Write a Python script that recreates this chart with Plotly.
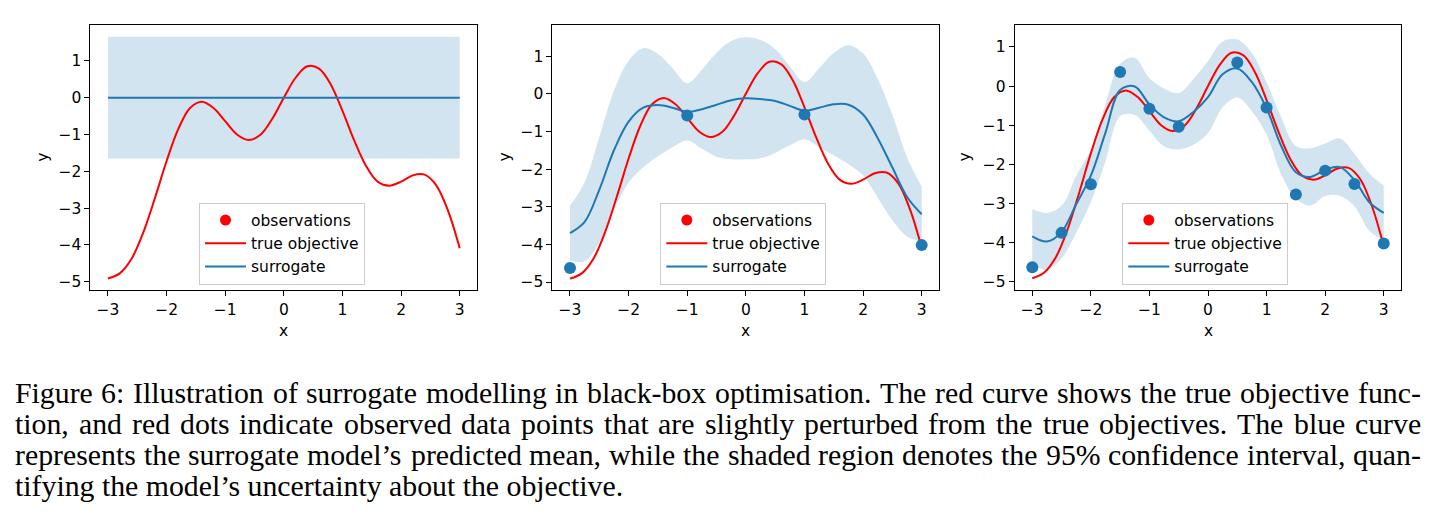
import plotly.graph_objects as go

# ---------------- data ----------------
true_x = [-3.0, -2.8, -2.6, -2.4, -2.2, -2.0, -1.8, -1.6, -1.4, -1.2, -1.0, -0.8, -0.6, -0.4, -0.2,
          0.0, 0.2, 0.4, 0.6, 0.8, 1.0, 1.2, 1.4, 1.6, 1.8, 2.0, 2.2, 2.4, 2.6, 2.8, 3.0]
true_y = [-4.91, -4.77, -4.38, -3.67, -2.73, -1.72, -0.85, -0.28, -0.11, -0.28, -0.64, -1.00, -1.15, -1.01, -0.58,
          0.00, 0.54, 0.85, 0.79, 0.36, -0.36, -1.16, -1.85, -2.28, -2.39, -2.28, -2.11, -2.09, -2.38, -3.07, -4.09]

# panel 1 (prior, no observations)
p1_x = [-3.0, 3.0]
p1_mean = [0.0, 0.0]
p1_upper = [1.65, 1.65]
p1_lower = [-1.65, -1.65]

# grid for the posterior surrogate curves
grid_x = [-3.0, -2.75, -2.5, -2.25, -2.0, -1.75, -1.5, -1.25, -1.0, -0.75, -0.5, -0.25, 0.0,
          0.25, 0.5, 0.75, 1.0, 1.25, 1.5, 1.75, 2.0, 2.25, 2.5, 2.75, 3.0]

# panel 2 (4 observations)
p2_obs_x = [-3.0, -1.0, 1.0, 3.0]
p2_obs_y = [-4.63, -0.58, -0.55, -4.02]
p2_mean = [-3.70, -3.40, -2.55, -1.50, -0.74, -0.37, -0.30, -0.37, -0.48, -0.41, -0.29, -0.17, -0.12,
           -0.14, -0.19, -0.32, -0.45, -0.37, -0.28, -0.29, -0.55, -1.18, -1.96, -2.74, -3.20]
p2_upper = [-2.97, -2.35, -1.15, 0.08, 0.88, 1.21, 1.06, 0.68, 0.28, 0.64, 1.09, 1.40, 1.50,
            1.43, 1.19, 0.73, 0.31, 0.68, 1.08, 1.29, 1.07, 0.40, -0.56, -1.69, -2.47]
p2_lower = [-4.43, -4.45, -3.95, -3.08, -2.36, -1.95, -1.66, -1.42, -1.24, -1.46, -1.67, -1.74, -1.74,
            -1.71, -1.57, -1.37, -1.21, -1.42, -1.64, -1.87, -2.17, -2.76, -3.36, -3.79, -3.93]

# panel 3 (12 observations)
p3_obs_x = [-3.0, -2.5, -2.0, -1.5, -1.0, -0.5, 0.5, 1.0, 1.5, 2.0, 2.5, 3.0]
p3_obs_y = [-4.63, -3.75, -2.51, 0.36, -0.58, -1.04, 0.60, -0.55, -2.77, -2.16, -2.50, -4.02]
p3_mean = [-3.84, -3.97, -3.73, -3.02, -2.29, -1.19, -0.10, -0.01, -0.47, -0.80, -0.90, -0.66, -0.28,
           0.30, 0.45, 0.10, -0.57, -1.53, -2.20, -2.32, -2.14, -2.07, -2.40, -2.96, -3.24]
p3_upper = [-3.14, -3.24, -3.06, -2.29, -1.62, -0.46, 0.57, 0.72, 0.20, -0.06, -0.18, 0.18, 0.64,
            1.14, 1.19, 0.84, 0.10, -0.80, -1.53, -1.59, -1.47, -1.34, -1.73, -2.23, -2.54]
p3_lower = [-4.54, -4.70, -4.40, -3.75, -2.96, -1.92, -0.77, -0.74, -1.14, -1.54, -1.62, -1.50, -1.20,
            -0.54, -0.29, -0.64, -1.24, -2.26, -2.87, -3.05, -2.81, -2.80, -3.07, -3.69, -3.94]

x_ticks = [-3, -2, -1, 0, 1, 2, 3]
y_ticks = [-5, -4, -3, -2, -1, 0, 1]
legend_labels = ["observations", "true objective", "surrogate"]

caption_lines = [
    "Figure 6: Illustration of surrogate modelling in black-box optimisation. The red curve shows the true objective func-",
    "tion, and red dots indicate observed data points that are slightly perturbed from the true objectives.  The blue curve",
    "represents the surrogate model\u2019s predicted mean, while the shaded region denotes the 95% confidence interval, quan-",
    "tifying the model\u2019s uncertainty about the objective.",
]

# ---------------- styling ----------------
W, H = 1439, 524
RED = "#ff0000"
BLUE = "#1f77b4"
BAND = "rgba(31,119,180,0.2)"
FS = 15.5
TICK_FONT = dict(family="DejaVu Sans", size=FS, color="black")

panels_px = [(90.4, 477.3), (552.4, 939.3), (1014.7, 1401.3)]
top_px, bot_px = 24.7, 290.3
y_ranges = [[-5.23, 1.98], [-5.22, 1.835], [-5.217, 1.568]]
legend_left_px = [199, 660.3, 1122.3]
legend_top_px = 202.5
ytitle_px = [43.3, 505, 965]

panels = [
    dict(x=p1_x, mean=p1_mean, up=p1_upper, lo=p1_lower, ox=None, oy=None),
    dict(x=grid_x, mean=p2_mean, up=p2_upper, lo=p2_lower, ox=p2_obs_x, oy=p2_obs_y),
    dict(x=grid_x, mean=p3_mean, up=p3_upper, lo=p3_lower, ox=p3_obs_x, oy=p3_obs_y),
]

fig = go.Figure()
layout = dict(
    width=W, height=H, margin=dict(l=0, r=0, t=0, b=0),
    paper_bgcolor="white", plot_bgcolor="white", annotations=[],
)


def px2x(p):
    return p / W


def px2y(p):
    return 1 - p / H


for i, pd_ in enumerate(panels):
    sfx = "" if i == 0 else str(i + 1)
    xa, ya = "x" + sfx, "y" + sfx
    lg = "legend" + sfx
    # band
    fig.add_trace(go.Scatter(x=pd_["x"], y=pd_["lo"], mode="lines", line=dict(width=0, shape="spline"),
                             showlegend=False, hoverinfo="skip", xaxis=xa, yaxis=ya))
    fig.add_trace(go.Scatter(x=pd_["x"], y=pd_["up"], mode="lines", line=dict(width=0, shape="spline"),
                             fill="tonexty", fillcolor=BAND, showlegend=False, hoverinfo="skip",
                             xaxis=xa, yaxis=ya))
    # true objective
    fig.add_trace(go.Scatter(x=true_x, y=true_y, mode="lines", line=dict(color=RED, width=2, shape="spline"),
                             name=legend_labels[1], legend=lg, legendrank=2, xaxis=xa, yaxis=ya))
    # surrogate
    fig.add_trace(go.Scatter(x=pd_["x"], y=pd_["mean"], mode="lines",
                             line=dict(color=BLUE, width=2, shape="spline"),
                             name=legend_labels[2], legend=lg, legendrank=3, xaxis=xa, yaxis=ya))
    # observations
    if pd_["ox"] is not None:
        fig.add_trace(go.Scatter(x=pd_["ox"], y=pd_["oy"], mode="markers",
                                 marker=dict(color=BLUE, size=12), showlegend=False,
                                 xaxis=xa, yaxis=ya))
    fig.add_trace(go.Scatter(x=[None], y=[None], mode="markers", marker=dict(color=RED, size=11),
                             name=legend_labels[0], legend=lg, legendrank=1, xaxis=xa, yaxis=ya))

    axis_common = dict(showline=True, linecolor="black", linewidth=1, mirror=True, ticks="outside",
                       ticklen=5, tickwidth=1, tickcolor="black", showgrid=False, zeroline=False,
                       tickfont=TICK_FONT)
    layout["xaxis" + sfx] = dict(axis_common, domain=[px2x(panels_px[i][0]), px2x(panels_px[i][1])],
                                 range=[-3.3, 3.3], tickvals=x_ticks, anchor=ya)
    layout["yaxis" + sfx] = dict(axis_common, domain=[px2y(bot_px), px2y(top_px)],
                                 range=y_ranges[i], tickvals=y_ticks, anchor=xa)
    layout[lg] = dict(x=px2x(legend_left_px[i]), y=px2y(legend_top_px), xanchor="left", yanchor="top",
                      bgcolor="rgba(255,255,255,0.8)", bordercolor="#cccccc", borderwidth=1,
                      font=dict(family="DejaVu Sans", size=FS, color="black"), itemwidth=41,
                      traceorder="normal")
    # axis titles
    cx = (panels_px[i][0] + panels_px[i][1]) / 2
    layout["annotations"].append(dict(text="x", x=px2x(cx), y=px2y(330.5), xref="paper", yref="paper",
                                      showarrow=False, xanchor="center", yanchor="middle",
                                      font=dict(family="DejaVu Sans", size=FS, color="black")))
    layout["annotations"].append(dict(text="y", x=px2x(ytitle_px[i]), y=px2y((top_px + bot_px) / 2),
                                      xref="paper", yref="paper", showarrow=False, textangle=-90,
                                      xanchor="center", yanchor="middle",
                                      font=dict(family="DejaVu Sans", size=FS, color="black")))

# ---------------- caption (justified by word placement) ----------------
TIMES_W = {
    " ": 250, "!": 333, "%": 833, "'": 333, "\u2019": 333, "(": 333, ")": 333, ",": 250, "-": 333, ".": 250,
    ":": 278, ";": 278,
    "A": 722, "B": 667, "C": 667, "D": 722, "E": 611, "F": 556, "G": 722, "H": 722, "I": 333, "J": 389,
    "K": 722, "L": 611, "M": 889, "N": 722, "O": 722, "P": 556, "Q": 722, "R": 667, "S": 556, "T": 611,
    "U": 722, "V": 722, "W": 944, "X": 722, "Y": 722, "Z": 611,
    "a": 444, "b": 500, "c": 444, "d": 500, "e": 444, "f": 333, "g": 500, "h": 500, "i": 278, "j": 278,
    "k": 500, "l": 278, "m": 778, "n": 500, "o": 500, "p": 500, "q": 500, "r": 333, "s": 389, "t": 278,
    "u": 500, "v": 500, "w": 722, "x": 500, "y": 500, "z": 444,
}
CAP_SIZE = 29.8
CAP_LEFT, CAP_RIGHT = 15.0, 1421.0
cap_baselines = [403, 434, 465, 496]
ASC, DESC = 0.891, 0.216


def text_w(s):
    return sum(TIMES_W.get(c, 500) for c in s) / 1000.0 * CAP_SIZE


cap_font = dict(family="Liberation Serif", size=CAP_SIZE, color="black")
for li, line in enumerate(caption_lines):
    yc = cap_baselines[li] - (ASC - DESC) / 2 * CAP_SIZE
    justified = li < len(caption_lines) - 1
    if not justified:
        layout["annotations"].append(dict(text=line, x=px2x(CAP_LEFT), y=px2y(yc), xref="paper", yref="paper",
                                          showarrow=False, xanchor="left", yanchor="middle", font=cap_font,
                                          borderpad=0, borderwidth=0))
        continue
    words = line.split()
    total = sum(text_w(w) for w in words)
    gap = (CAP_RIGHT - CAP_LEFT - total) / (len(words) - 1)
    pos = CAP_LEFT
    for wi, w in enumerate(words):
        if wi == len(words) - 1:
            layout["annotations"].append(dict(text=w, x=px2x(CAP_RIGHT), y=px2y(yc), xref="paper", yref="paper",
                                              showarrow=False, xanchor="right", yanchor="middle", font=cap_font,
                                              borderpad=0, borderwidth=0))
        else:
            layout["annotations"].append(dict(text=w, x=px2x(pos), y=px2y(yc), xref="paper", yref="paper",
                                              showarrow=False, xanchor="left", yanchor="middle", font=cap_font,
                                              borderpad=0, borderwidth=0))
        pos += text_w(w) + gap

fig.update_layout(**layout)
fig.write_html("out.html")
